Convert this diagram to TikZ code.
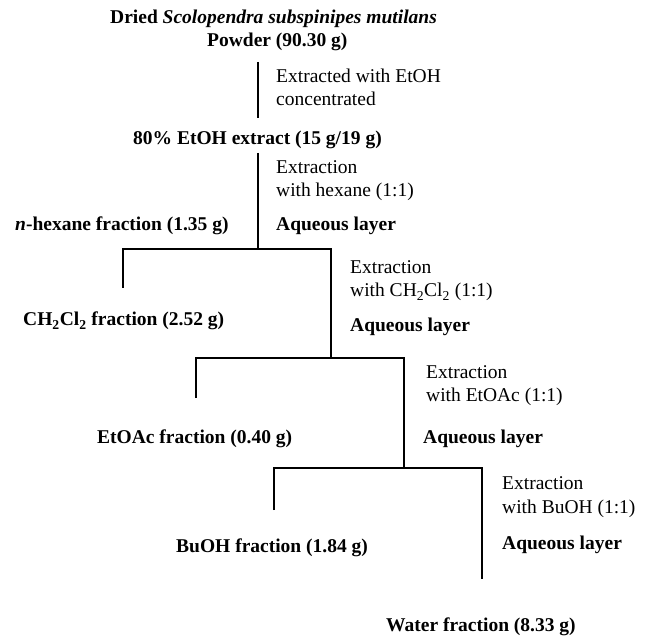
\documentclass[tikz,border=0pt]{standalone}
\usepackage{fontspec}
\setmainfont{Liberation Serif}
\begin{document}
\begin{tikzpicture}[x=1pt,y=-1pt,
  lbl/.style={inner sep=0pt,anchor=base west,font=\fontsize{19.5}{23}\selectfont},
  blbl/.style={lbl,font=\fontsize{19.5}{23}\selectfont\bfseries},
  conn/.style={line width=1.5pt}]
\useasboundingbox (0,0) rectangle (648,636);
% texts
\node[blbl] (t1) at (110,24) {Dried \textit{Scolopendra subspinipes mutilans}};
\node[blbl] (t2) at (207,47) {Powder (90.30 g)};
\node[lbl] (s1a) at (276,83) {Extracted with EtOH};
\node[lbl] (s1b) at (276,106) {concentrated};
\node[blbl] (ext) at (133,145) {80\% EtOH extract (15 g/19 g)};
\node[lbl] (s2a) at (276,174) {Extraction};
\node[lbl] (s2b) at (276,197) {with hexane (1:1)};
\node[blbl] (hex) at (15,231) {\textit{n}-hexane fraction (1.35 g)};
\node[blbl] (aq1) at (276,231) {Aqueous layer};
\node[lbl] (s3a) at (350,274) {Extraction};
\node[lbl] (s3b) at (350,297) {with CH\textsubscript{2}Cl\textsubscript{2} (1:1)};
\node[blbl] (dcm) at (23,326) {CH\textsubscript{2}Cl\textsubscript{2} fraction (2.52 g)};
\node[blbl] (aq2) at (350,331) {Aqueous layer};
\node[lbl] (s4a) at (426,378) {Extraction};
\node[lbl] (s4b) at (426,401) {with EtOAc (1:1)};
\node[blbl] (eto) at (97,443) {EtOAc fraction (0.40 g)};
\node[blbl] (aq3) at (423,443) {Aqueous layer};
\node[lbl] (s5a) at (502,489) {Extraction};
\node[lbl] (s5b) at (502,513) {with BuOH (1:1)};
\node[blbl] (buo) at (176,552) {BuOH fraction (1.84 g)};
\node[blbl] (aq4) at (502,549) {Aqueous layer};
\node[blbl] (wat) at (386,631) {Water fraction (8.33 g)};
% junction coordinates
\coordinate (a0) at (258,62);
\coordinate (a1) at (258,118);
\coordinate (b0) at (258,153);
\coordinate (b1) at (258,249);
\coordinate (bl) at (123,249);
\coordinate (br) at (331,249);
\coordinate (bld) at (123,288);
\coordinate (c1) at (331,358);
\coordinate (cl) at (196,358);
\coordinate (cr) at (404,358);
\coordinate (cld) at (196,398);
\coordinate (d1) at (404,468);
\coordinate (dl) at (274,468);
\coordinate (dr) at (482,468);
\coordinate (dld) at (274,510);
\coordinate (drd) at (482,579);
% connectors
\draw[conn] (a0) -- (a1);
\draw[conn] (b0) -- (b1);
\draw[conn] (bld) -- (bl) -- (br) -- (c1);
\draw[conn] (cld) -- (cl) -- (cr) -- (d1);
\draw[conn] (dld) -- (dl) -- (dr) -- (drd);
\end{tikzpicture}
\end{document}
